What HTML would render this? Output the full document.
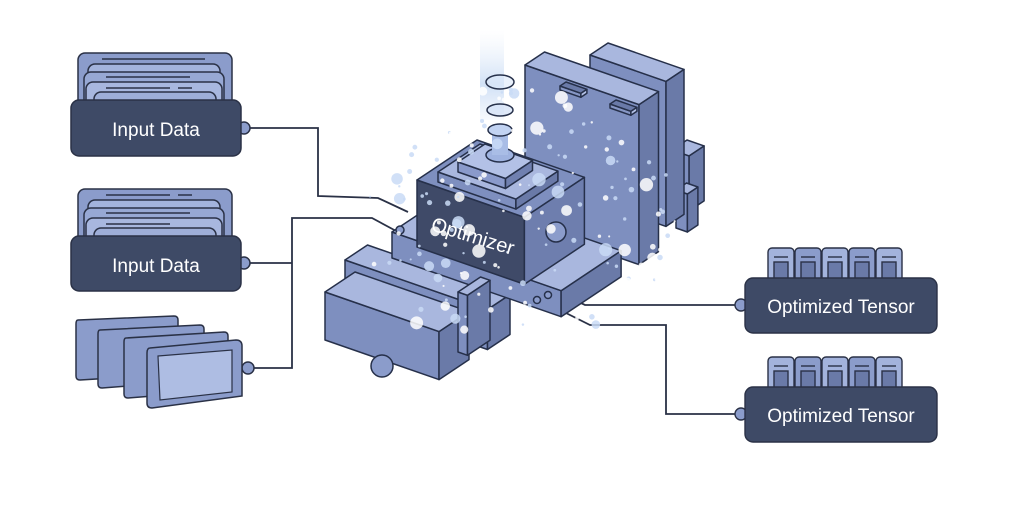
<!DOCTYPE html>
<html><head><meta charset="utf-8"><style>
html,body{margin:0;padding:0;background:#fff;width:1014px;height:507px;overflow:hidden}
svg{display:block}
text{font-family:"Liberation Sans","DejaVu Sans",sans-serif}
</style></head><body>
<svg id="s" width="1014" height="507" viewBox="0 0 1014 507" xmlns="http://www.w3.org/2000/svg">
<defs>
<linearGradient id="beam" x1="0" y1="0" x2="0" y2="1">
<stop offset="0" stop-color="#dbe7f7" stop-opacity="0"/>
<stop offset="0.6" stop-color="#b3cdf0" stop-opacity="0.6"/>
<stop offset="1" stop-color="#b3cdf0" stop-opacity="0.1"/>
</linearGradient>
</defs>
<g fill="none" stroke="#2a3146" stroke-width="1.8">
<path d="M250 128 H318 V196 L378 198 L408 212"/>
<path d="M250 263 H292"/>
<path d="M252 368 H292 V218 H372 L398 232"/>
<path d="M740 305 H585 L553 290"/>
<path d="M740 414 H666 V325 H590 L540 300"/>
</g>
<g stroke="#2a3146" stroke-width="1.5">
<rect x="78" y="53" width="154" height="60" rx="7" fill="#8b9ccb"/>
<rect x="88" y="64" width="132" height="50" rx="7" fill="#a3b3dc"/>
<rect x="84" y="72" width="140" height="50" rx="7" fill="#97a8d4"/>
<rect x="86" y="82" width="136" height="40" rx="7" fill="#a8b7df"/>
<rect x="94" y="92" width="122" height="30" rx="7" fill="#9eaed8"/>
<line x1="102" y1="59" x2="205" y2="59"/><line x1="106" y1="77" x2="190" y2="77"/><line x1="106" y1="88" x2="170" y2="88"/><line x1="178" y1="88" x2="192" y2="88"/>
<circle cx="244" cy="128" r="6" fill="#8b9ccb"/>
<rect x="71" y="100" width="170" height="56" rx="8" fill="#3e4a66"/>
</g>
<text x="156" y="136" fill="#fff" font-size="19" text-anchor="middle">Input Data</text>
<g stroke="#2a3146" stroke-width="1.5">
<rect x="78" y="189" width="154" height="60" rx="7" fill="#8b9ccb"/>
<rect x="88" y="200" width="132" height="50" rx="7" fill="#a3b3dc"/>
<rect x="84" y="208" width="140" height="50" rx="7" fill="#97a8d4"/>
<rect x="86" y="218" width="136" height="40" rx="7" fill="#a8b7df"/>
<rect x="94" y="228" width="122" height="30" rx="7" fill="#9eaed8"/>
<line x1="106" y1="195" x2="170" y2="195"/><line x1="178" y1="195" x2="192" y2="195"/><line x1="106" y1="213" x2="190" y2="213"/><line x1="106" y1="224" x2="170" y2="224"/>
<circle cx="244" cy="263" r="6" fill="#8b9ccb"/>
<rect x="71" y="236" width="170" height="55" rx="8" fill="#3e4a66"/>
</g>
<text x="156" y="272" fill="#fff" font-size="19" text-anchor="middle">Input Data</text>
<g stroke="#2a3146" stroke-width="1.5">
<circle cx="248" cy="368" r="6" fill="#8b9ccb"/>
<path d="M78 320 L174 316 Q178 316 178 320 V374 L80 380 Q76 380 76 376 V324 Q76 320 78 320Z" fill="#8b9ccb"/>
<path d="M100 330 L200 325 Q204 325 204 329 V380 L102 388 Q98 388 98 384 V334 Q98 330 100 330Z" fill="#8b9ccb"/>
<path d="M126 338 L224 332 Q228 332 228 336 V390 L128 398 Q124 398 124 394 V342 Q124 338 126 338Z" fill="#8b9ccb"/>
<path d="M150 348 L236 340 Q242 340 242 346 V396 L152 408 Q147 408 147 403 V353 Q147 348 150 348Z" fill="#8b9ccb"/>
<path d="M158 356 L232 350 V392 L160 400Z" fill="#aebde3" stroke-width="1.2"/>
</g>
<rect x="480" y="30" width="24" height="90" fill="url(#beam)"/>
<g id="mach" stroke="#26304a" stroke-width="1.5" stroke-linejoin="round"></g>
<g id="bub"></g>
<text x="0" y="0" fill="#fff" font-size="20" transform="translate(430 230) rotate(17)">Optimizer</text>
<g stroke="#2a3146" stroke-width="1.4">
<g id="t1"></g>
<circle cx="741" cy="305" r="6" fill="#8b9ccb"/>
<rect x="745" y="278" width="192" height="55" rx="8" fill="#3e4a66"/>
<g id="t2"></g>
<circle cx="741" cy="414" r="6" fill="#8b9ccb"/>
<rect x="745" y="387" width="192" height="55" rx="8" fill="#3e4a66"/>
</g>
<text x="841" y="313" fill="#fff" font-size="19" text-anchor="middle">Optimized Tensor</text>
<text x="841" y="422" fill="#fff" font-size="19" text-anchor="middle">Optimized Tensor</text>
</svg>
<script>
var NS="http://www.w3.org/2000/svg";
function el(p,t,a){var e=document.createElementNS(NS,t);for(var k in a)e.setAttribute(k,a[k]);p.appendChild(e);return e;}
var m=document.getElementById('mach');
var A=[0.95,0.33],B=[0.75,-0.5];
function pt(P,w,d,h){return [P[0]+w*A[0]+d*B[0],P[1]+w*A[1]+d*B[1]-h];}
function poly(ps,f){el(m,'polygon',{points:ps.map(function(p){return p[0].toFixed(1)+','+p[1].toFixed(1)}).join(' '),fill:f});}
function prism(P,w,d,h,cf,ct,cr){
 poly([pt(P,0,0,0),pt(P,w,0,0),pt(P,w,0,h),pt(P,0,0,h)],cf||'#7e8fbf');
 poly([pt(P,w,0,0),pt(P,w,d,0),pt(P,w,d,h),pt(P,w,0,h)],cr||'#6a7aa8');
 poly([pt(P,0,0,h),pt(P,w,0,h),pt(P,w,d,h),pt(P,0,d,h)],ct||'#a9b7de');
}
prism([672,205],18,20,55);
prism([676,228],12,14,38);
prism([590,200],80,24,145);
prism([525,225],120,26,160);
prism([560,90],22,8,4,'#8696c4','#6a7aa8','#b3c1e6');
prism([610,108],22,8,4,'#8696c4','#6a7aa8','#b3c1e6');
prism([345,300],150,30,40);
prism([392,258],178,80,26);
prism([325,340],120,40,48);
el(m,'circle',{cx:382,cy:366,r:11,fill:'#8b9ccb'});
prism([458,352],10,30,60);
prism([417,247],113,80,67,'#3f4a68','#7e8fbf','#6e7eae');
prism([438,182],82,56,10);
prism([458,172],50,36,10,'#8a9acb','#b3c1e6','#7080b0');
el(m,'ellipse',{cx:500,cy:155,rx:14,ry:7,fill:'#9fb3e0'});
el(m,'rect',{x:492,y:130,width:16,height:25,fill:'#a9bde6',stroke:'none'});
el(m,'ellipse',{cx:500,cy:130,rx:12,ry:6,fill:'#c2d3f2'});
el(m,'ellipse',{cx:500,cy:110,rx:13,ry:6,fill:'#d2e0f6','fill-opacity':0.7});
el(m,'ellipse',{cx:500,cy:82,rx:14,ry:7,fill:'#dce8f8','fill-opacity':0.6});
el(m,'circle',{cx:556,cy:232,r:10,fill:'#8b9ccb'});
el(m,'circle',{cx:537,cy:300,r:3.5,fill:'#8b9ccb'});
el(m,'circle',{cx:548,cy:295,r:3.5,fill:'#8b9ccb'});
el(m,'circle',{cx:400,cy:230,r:4,fill:'#8b9ccb'});
var b=document.getElementById('bub'),s=7;
function r(){s=(s*9301+49297)%233280;return s/233280;}
for(var i=0;i<220;i++){var x=370+r()*320,y=70+r()*260;
 var dx=(x-510)/160,dy=(y-220)/130;if(dx*dx+dy*dy>1.1)continue;
 var rr=r()<0.15?4+r()*3:1+r()*2;
 el(b,'circle',{cx:x,cy:y,r:rr,fill:r()<0.5?'#ffffff':'#c9dbf6','fill-opacity':0.85});}
function tabs(id,y){var g=document.getElementById(id);
 for(var i=0;i<5;i++){var x=768+i*27;
  el(g,'rect',{x:x,y:y,width:26,height:34,rx:4,fill:i%2?'#8b9ccb':'#a3b3dc'});
  el(g,'rect',{x:x+6,y:y+14,width:14,height:20,fill:'#6a7aa8'});
  el(g,'line',{x1:x+6,y1:y+9,x2:x+20,y2:y+9});}}
tabs('t1',248);tabs('t2',357);
</script>
</body></html>
